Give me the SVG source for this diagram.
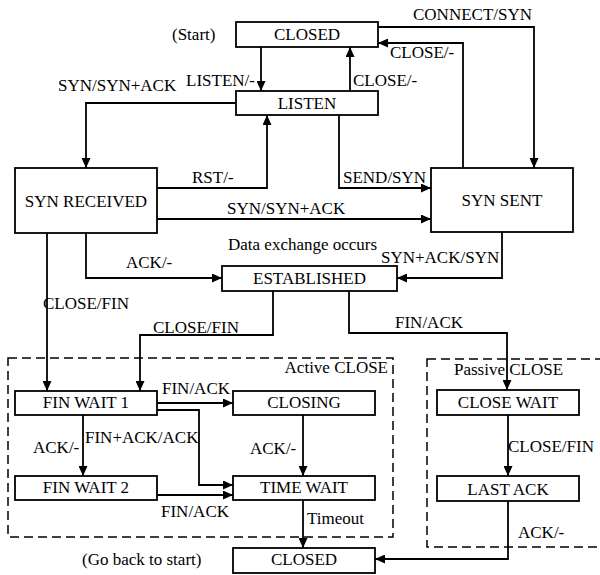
<svg xmlns="http://www.w3.org/2000/svg" width="600" height="575" viewBox="0 0 600 575">
<style>
text{font-family:"Liberation Serif","Times New Roman",serif;font-size:17px;fill:#000}
.c{text-anchor:middle}
.box{fill:#fff;stroke:#000;stroke-width:1.8}
.dash{fill:none;stroke:#000;stroke-width:1.5;stroke-dasharray:9 5}
.ln{fill:none;stroke:#000;stroke-width:1.8;marker-end:url(#ah)}
</style>
<defs>
<marker id="ah" markerUnits="userSpaceOnUse" markerWidth="11" markerHeight="9" refX="10" refY="4.5" orient="auto">
<path d="M0,0 L10,4.5 L0,9 z" fill="#000"/>
</marker>
</defs>
<g id="groups">
<rect class="dash" x="8" y="358" width="385" height="179"/>
<text x="388" y="373" text-anchor="end">Active CLOSE</text>
<rect class="dash" x="427" y="359" width="180" height="188"/>
<text x="454" y="375">Passive CLOSE</text>
</g>
<g id="connectors">
<path class="ln" d="M261,47 L261,91"/>
<path class="ln" d="M350,91 L350,47"/>
<path class="ln" d="M463,168 L463,43 L378,43"/>
<path class="ln" d="M378,27 L534,27 L534,168"/>
<path class="ln" d="M236,103 L86,103 L86,168"/>
<path class="ln" d="M157,188 L267,188 L267,115"/>
<path class="ln" d="M339,115 L339,188 L431,188"/>
<path class="ln" d="M157,219 L431,219"/>
<path class="ln" d="M502,232 L502,278 L397,278"/>
<path class="ln" d="M86,233 L86,278 L222,278"/>
<path class="ln" d="M47,233 L47,391"/>
<path class="ln" d="M273,291 L273,335 L140,335 L140,391"/>
<path class="ln" d="M349,291 L349,333 L507,333 L507,390"/>
<path class="ln" d="M157,403 L233,403"/>
<path class="ln" d="M157,410 L199,410 L199,485 L233,485"/>
<path class="ln" d="M83,415 L83,476"/>
<path class="ln" d="M303,415 L303,476"/>
<path class="ln" d="M157,495 L233,495"/>
<path class="ln" d="M303,500 L303,548"/>
<path class="ln" d="M508,415 L508,476"/>
<path class="ln" d="M508,501 L508,559 L375,559"/>
<text x="413" y="20">CONNECT/SYN</text>
<text x="186" y="86">LISTEN/-</text>
<text x="353" y="86">CLOSE/-</text>
<text x="390" y="58">CLOSE/-</text>
<text x="58" y="91">SYN/SYN+ACK</text>
<text x="192" y="183">RST/-</text>
<text x="343" y="183">SEND/SYN</text>
<text x="227" y="214">SYN/SYN+ACK</text>
<text x="126" y="268">ACK/-</text>
<text x="381" y="263">SYN+ACK/SYN</text>
<text x="43" y="309">CLOSE/FIN</text>
<text x="153" y="333">CLOSE/FIN</text>
<text x="395" y="328">FIN/ACK</text>
<text x="162" y="394">FIN/ACK</text>
<text x="85" y="443">FIN+ACK/ACK</text>
<text x="33" y="453">ACK/-</text>
<text x="250" y="454">ACK/-</text>
<text x="161" y="517">FIN/ACK</text>
<text x="307" y="524">Timeout</text>
<text x="508" y="452">CLOSE/FIN</text>
<text x="518" y="538">ACK/-</text>
</g>
<g id="closed-start">
<rect class="box" x="236" y="22" width="142" height="25"/>
<text class="c" x="307" y="40">CLOSED</text>
</g>
<text x="172" y="40">(Start)</text>
<g id="listen">
<rect class="box" x="236" y="91" width="142" height="24"/>
<text class="c" x="307" y="109">LISTEN</text>
</g>
<g id="syn-received">
<rect class="box" x="15" y="168" width="142" height="65"/>
<text class="c" x="86" y="207">SYN RECEIVED</text>
</g>
<g id="syn-sent">
<rect class="box" x="431" y="168" width="142" height="64"/>
<text class="c" x="502" y="206">SYN SENT</text>
</g>
<text x="228" y="250">Data exchange occurs</text>
<g id="established">
<rect class="box" x="222" y="266" width="175" height="25"/>
<text class="c" x="309.5" y="284">ESTABLISHED</text>
</g>
<g id="fin-wait-1">
<rect class="box" x="15" y="391" width="142" height="24"/>
<text class="c" x="86" y="408">FIN WAIT 1</text>
</g>
<g id="closing">
<rect class="box" x="233" y="391" width="142" height="24"/>
<text class="c" x="304" y="408">CLOSING</text>
</g>
<g id="fin-wait-2">
<rect class="box" x="15" y="476" width="142" height="24"/>
<text class="c" x="86" y="493">FIN WAIT 2</text>
</g>
<g id="time-wait">
<rect class="box" x="233" y="476" width="142" height="24"/>
<text class="c" x="304" y="493">TIME WAIT</text>
</g>
<g id="close-wait">
<rect class="box" x="437" y="390" width="142" height="25"/>
<text class="c" x="508" y="408">CLOSE WAIT</text>
</g>
<g id="last-ack">
<rect class="box" x="437" y="476" width="142" height="25"/>
<text class="c" x="508" y="495">LAST ACK</text>
</g>
<g id="closed-end">
<rect class="box" x="233" y="548" width="142" height="25"/>
<text class="c" x="304" y="565">CLOSED</text>
</g>
<text x="82" y="565">(Go back to start)</text>
</svg>
